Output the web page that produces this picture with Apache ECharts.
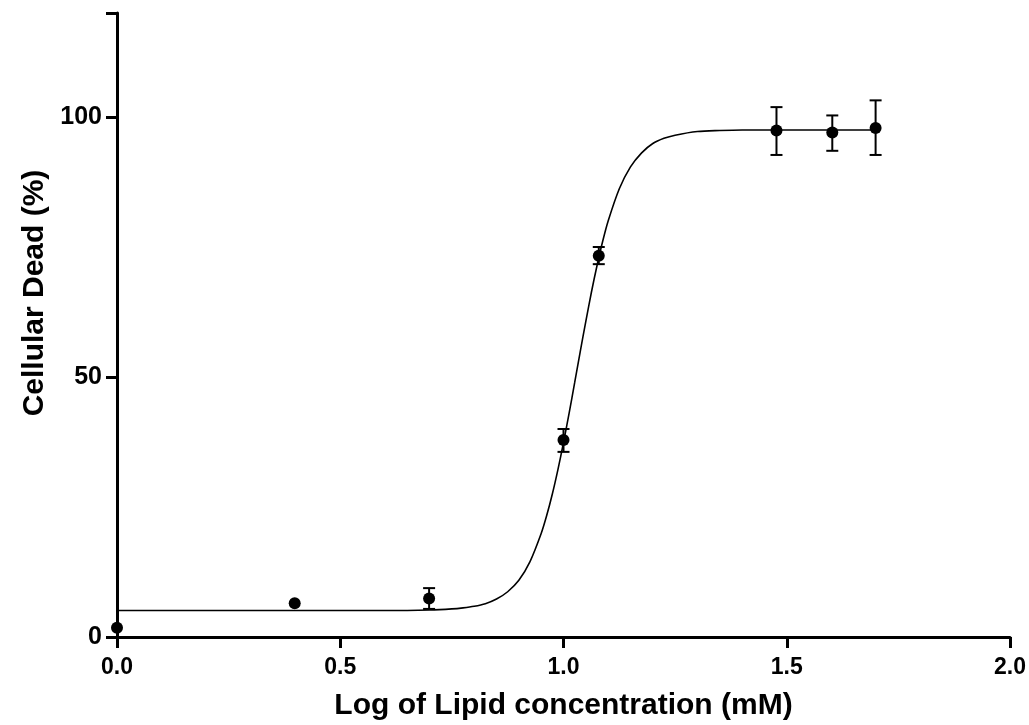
<!DOCTYPE html>
<html>
<head>
<meta charset="utf-8">
<style>
html, body { margin: 0; padding: 0; background: #fff; }
#main { width: 1029px; height: 725px; }
</style>
<script src="https://cdn.jsdelivr.net/npm/echarts@6/dist/echarts.min.js"></script>
</head>
<body>
<div id="main"></div>
<script>
// measured points (log mM, % dead)
var logConc = [0, 0.398, 0.699, 1.0, 1.079, 1.477, 1.602, 1.699];
var deadMean = [1.8, 6.5, 7.4, 37.9, 73.3, 97.4, 97.0, 97.9];
var errLow = [null, null, 5.4, 35.6, 71.7, 92.7, 93.5, 92.7];
var errHigh = [null, null, 9.4, 40.0, 75.0, 101.9, 100.3, 103.2];

// fitted curve
var curveX = [0, 0.5, 0.6, 0.7, 0.75, 0.775, 0.8, 0.825, 0.85, 0.875, 0.9, 0.925, 0.95, 0.9625, 0.975, 0.9875, 1.0, 1.0125, 1.025, 1.0375, 1.05, 1.0625, 1.075, 1.0875, 1.1, 1.125, 1.15, 1.175, 1.2, 1.225, 1.25, 1.3, 1.35, 1.4, 1.5, 1.6, 1.7];
var curveY = [5.1, 5.1, 5.1, 5.2, 5.4, 5.6, 5.9, 6.4, 7.3, 8.7, 10.9, 14.5, 19.9, 23.4, 27.5, 32.2, 37.4, 43.0, 48.9, 54.9, 60.7, 66.3, 71.4, 76.0, 80.0, 86.2, 90.4, 93.1, 94.9, 95.9, 96.5, 97.2, 97.4, 97.5, 97.5, 97.5, 97.5];

var xTicks = ['0.0', '0.5', '1.0', '1.5', '2.0'];
var yTicks = [0, 50, 100];

var font = '"Liberation Sans", Arial, sans-serif';

var points = logConc.map(function (x, i) { return [x, deadMean[i]]; });
var curve = curveX.map(function (x, i) { return [x, curveY[i]]; });
var bars = [];
logConc.forEach(function (x, i) {
    if (errLow[i] != null) bars.push([x, errLow[i], errHigh[i]]);
});

var myChart = echarts.init(document.getElementById('main'));
myChart.setOption({
    animation: false,
    grid: { left: 117, right: 19, top: 13, bottom: 88, containLabel: false, outerBoundsMode: 'none' },
    xAxis: {
        type: 'value',
        min: 0,
        max: 2,
        interval: 0.5,
        name: 'Log of Lipid concentration (mM)',
        nameLocation: 'middle',
        nameGap: 54,
        nameTextStyle: { fontFamily: font, fontWeight: 'bold', fontSize: 30, color: '#000' },
        axisLine: { lineStyle: { color: '#000', width: 3 } },
        axisTick: { length: 11, lineStyle: { color: '#000', width: 3 } },
        axisLabel: {
            margin: 19,
            fontFamily: font, fontWeight: 'bold', fontSize: 23, color: '#000',
            formatter: function (v) { return xTicks[Math.round(v / 0.5)]; }
        },
        splitLine: { show: false }
    },
    yAxis: {
        type: 'value',
        min: 0,
        max: 120,
        interval: 50,
        name: 'Cellular Dead (%)',
        nameLocation: 'middle',
        nameGap: 58,
        nameTextStyle: { fontFamily: font, fontWeight: 'bold', fontSize: 30, color: '#000', padding: [0, 0, 0, 64] },
        axisLine: { lineStyle: { color: '#000', width: 3 } },
        axisTick: { length: 11, lineStyle: { color: '#000', width: 3 } },
        axisLabel: {
            margin: 15,
            fontFamily: font, fontWeight: 'bold', fontSize: 25, color: '#000',
            formatter: function (v) { return yTicks.indexOf(v) >= 0 ? v : ''; }
        },
        splitLine: { show: false }
    },
    series: [{
        type: 'line',
        data: curve,
        smooth: 0.3,
        showSymbol: false,
        lineStyle: { color: '#000', width: 1.6 },
        z: 2
    }, {
        type: 'custom',
        data: bars,
        renderItem: function (params, api) {
            var lo = api.coord([api.value(0), api.value(1)]);
            var hi = api.coord([api.value(0), api.value(2)]);
            var w = 6;
            var st = { stroke: '#000', lineWidth: 2 };
            return {
                type: 'group',
                children: [
                    { type: 'line', shape: { x1: lo[0], y1: lo[1], x2: hi[0], y2: hi[1] }, style: st },
                    { type: 'line', shape: { x1: lo[0] - w, y1: lo[1], x2: lo[0] + w, y2: lo[1] }, style: st },
                    { type: 'line', shape: { x1: hi[0] - w, y1: hi[1], x2: hi[0] + w, y2: hi[1] }, style: st }
                ]
            };
        },
        z: 3
    }, {
        type: 'scatter',
        data: points,
        symbol: 'circle',
        symbolSize: 12,
        itemStyle: { color: '#000', opacity: 1 },
        z: 4
    }]
});
</script>
</body>
</html>
